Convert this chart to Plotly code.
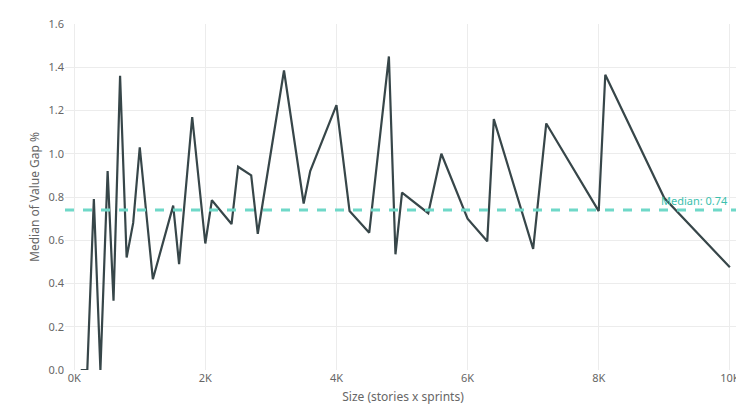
import plotly.graph_objects as go

size = [100, 200, 300, 400, 510, 600, 700, 800, 900, 1000, 1200, 1510, 1600, 1800, 2000,
        2100, 2400, 2500, 2700, 2800, 3200, 3500, 3600, 4000, 4200, 4500, 4800, 4900, 5000,
        5400, 5600, 6000, 6300, 6400, 7000, 7200, 8000, 8100, 9000, 10000]
gap = [0, 0, 0.79, 0, 0.92, 0.32, 1.36, 0.52, 0.68, 1.03, 0.42, 0.76, 0.49, 1.17, 0.585,
       0.785, 0.675, 0.94, 0.9, 0.63, 1.385, 0.77, 0.92, 1.225, 0.735, 0.635, 1.45, 0.535, 0.82,
       0.725, 1.0, 0.70, 0.595, 1.16, 0.56, 1.14, 0.735, 1.365, 0.795, 0.475]
median = 0.74

fig = go.Figure()
fig.add_trace(go.Scatter(x=size, y=gap, mode="lines", line=dict(color="#374649", width=2.2)))
fig.add_hline(y=median, line=dict(color="#6fd8c8", width=3, dash="dash"))
fig.add_annotation(x=10000, y=median, xref="x", yref="y", text="Median: 0.74", showarrow=False,
                   xanchor="right", yanchor="bottom", font=dict(color="#3cbfae", size=11))

fig.update_layout(
    width=744, height=415, margin=dict(l=57, r=11, t=16, b=53, autoexpand=False),
    plot_bgcolor="white", paper_bgcolor="white", showlegend=False,
    font=dict(family="Noto Sans", size=11, color="#666666"),
)
fig.update_xaxes(range=[-140, 10170], tickvals=[0, 2000, 4000, 6000, 8000, 10000],
                 ticktext=["0K", "2K", "4K", "6K", "8K", "10K"], showgrid=True, gridcolor="#ececec",
                 zeroline=False, automargin=False, ticklen=4, tickcolor="white",
                 title=dict(text="Size (stories x sprints)", font=dict(size=12), standoff=8))
fig.update_yaxes(range=[0, 1.6], dtick=0.2, tickformat=".1f", showgrid=True, gridcolor="#ececec",
                 zeroline=False, automargin=False, ticklen=4, tickcolor="white",
                 title=dict(text="Median of Value Gap %", font=dict(size=12), standoff=6))

fig.write_html("out.html")
